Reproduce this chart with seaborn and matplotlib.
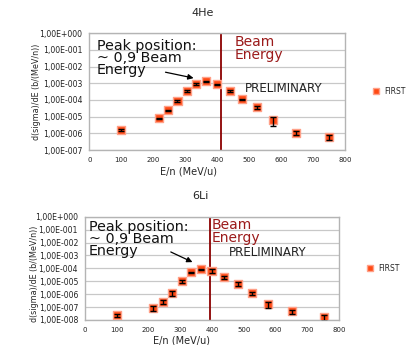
import matplotlib
matplotlib.use("Agg")
import matplotlib.pyplot as plt
import matplotlib.ticker as mticker
import numpy as np
import pandas as pd
import seaborn as sns

# ---- data: 4He ----
he_energy = [100, 217, 245, 276, 305, 335, 365, 400, 440, 479, 525, 575, 648, 749]
he_sigma = [1.6e-6, 8e-6, 2.4e-5, 8.7e-5, 3.5e-4, 9e-4, 1.3e-3, 8.7e-4, 3.5e-4,
            1.1e-4, 3.6e-5, 6.3e-6, 1.1e-6, 5.8e-7]
he_relerr = [0.1, 0.1, 0.1, 0.1, 0.1, 0.1, 0.1, 0.1, 0.1, 0.1, 0.2, 0.55, 0.3, 0.3]
he_beam = 413

# ---- data: 6Li ----
li_energy = [100, 213, 244, 273, 304, 333, 365, 398, 437, 480, 524, 575, 651, 751]
li_sigma = [2.3e-8, 8.3e-8, 2.6e-7, 1.3e-6, 9.8e-6, 4.9e-5, 8.3e-5, 6.6e-5, 2e-5,
            6.4e-6, 1.2e-6, 1.6e-7, 4.7e-8, 1.6e-8]
li_relerr = [0.3, 0.35, 0.3, 0.4, 0.3, 0.15, 0.1, 0.3, 0.25, 0.3, 0.3, 0.5, 0.35, 0.5]
li_beam = 394

x_ticks = [0, 100, 200, 300, 400, 500, 600, 700, 800]
series_name = "FIRST"

sns.set_style("white")
plt.rcParams['font.family'] = ['DejaVu Sans']

fig = plt.figure(figsize=(4.09, 3.45), dpi=100)
ax1 = fig.add_axes([0.2183, 0.5652, 0.625, 0.3383])
ax2 = fig.add_axes([0.2078, 0.0725, 0.6218, 0.2994])

marker_face = "#ff4a14"
marker_edge = "#ffa088"
grid_col = "#c8c8c8"
spine_col = "#b4b4b4"


def fmt_sci(v, pos):
    if v <= 0:
        return ""
    e = int(round(np.log10(v)))
    return "1,00E{:+04d}".format(e)


def draw(ax, energy, sigma, relerr, beam, ymin_exp, title, title_xy, arrow,
         peak_xy, beam_dx, prelim_xy, fs_ticks):
    df = pd.DataFrame({"E": energy, "sigma": sigma, "series": series_name})
    err = np.array(relerr) * np.array(sigma)
    sns.scatterplot(data=df, x="E", y="sigma", hue="series", ax=ax, marker="s",
                    s=34, palette=[marker_face], edgecolor=marker_edge,
                    linewidth=1.0, zorder=3)
    ax.errorbar(energy, sigma, yerr=err, fmt="none", ecolor="black",
                elinewidth=1.0, capsize=2.5, capthick=1.0, zorder=4)
    ax.set_yscale("log")
    ax.set_ylim(10.0 ** ymin_exp, 1.0)
    ax.set_xlim(0, 800)
    ax.set_xticks(x_ticks)
    ax.set_yticks([10.0 ** e for e in range(ymin_exp, 1)])
    ax.yaxis.set_minor_locator(mticker.NullLocator())
    ax.yaxis.set_major_formatter(mticker.FuncFormatter(fmt_sci))
    ax.tick_params(axis="both", labelsize=fs_ticks, length=3, width=0.8,
                   color=spine_col, pad=2, labelcolor="#222222")
    ax.tick_params(axis="y", labelsize=fs_ticks + 0.6)
    ax.grid(axis="y", color=grid_col, linewidth=0.9)
    ax.grid(axis="x", visible=False)
    for sp in ax.spines.values():
        sp.set_color(spine_col)
        sp.set_linewidth(1.0)
    ax.axvline(beam, color="#8b0000", linewidth=1.3, zorder=2)
    ax.text(beam + beam_dx, 0.985, "Beam\nEnergy", transform=ax.get_xaxis_transform(),
            va="top", ha="left", color="#9b1a1a", fontsize=10, linespacing=0.88)
    ax.text(peak_xy[0], peak_xy[1], "Peak position:\n~ 0,9 Beam\nEnergy",
            transform=ax.transAxes, va="top", ha="left", fontsize=10.3,
            linespacing=0.85, color="#111111")
    ax.annotate("", xy=arrow[1], xytext=arrow[0],
                arrowprops=dict(arrowstyle="-|>", color="black", lw=0.9,
                                mutation_scale=8))
    ax.text(prelim_xy[0], prelim_xy[1], "PRELIMINARY", transform=ax.transAxes,
            va="center", ha="left", fontsize=8.6, color="#222222")
    ax.set_xlabel("E/n (MeV/u)", fontsize=7)
    ax.set_ylabel("d(sigma)/dE (b/(MeV/n))", fontsize=5.8)
    fig.text(title_xy[0], title_xy[1], title, fontsize=8, ha="center", va="center")
    ax.legend(loc="center left", bbox_to_anchor=(1.08, 0.5), frameon=False,
              fontsize=5.5, handletextpad=0.1, markerscale=0.7, borderaxespad=0)
    return ax


draw(ax1, he_energy, he_sigma, he_relerr, he_beam, -7, "4He",
     (203 / 409, 1 - 13 / 345),
     ((230, 10 ** -2.3), (335, 10 ** -2.72)), (0.03, 0.955), 41,
     (0.61, 0.53), 5)
draw(ax2, li_energy, li_sigma, li_relerr, li_beam, -8, "6Li",
     (200 / 409, 1 - 196 / 345),
     ((262, 10 ** -2.64), (346, 10 ** -3.61)), (0.015, 0.97), 4,
     (0.565, 0.655), 5)

ax1.xaxis.set_label_coords(0.39, -0.14)
ax2.xaxis.set_label_coords(0.38, -0.15)
ax1.yaxis.set_label_coords(-0.19, 0.5)
ax2.yaxis.set_label_coords(-0.18, 0.45)

fig.savefig("out.png", dpi=100)
